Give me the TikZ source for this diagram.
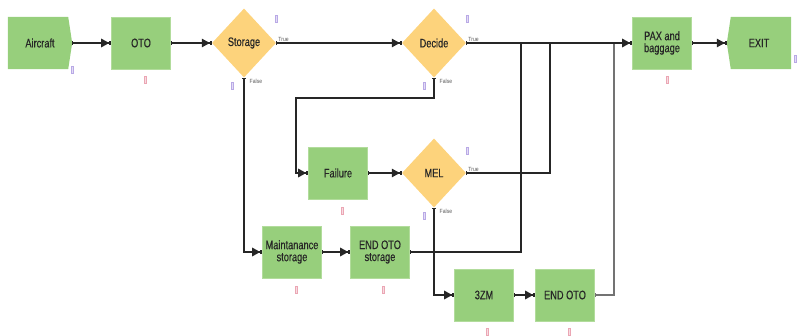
\documentclass[tikz,border=0pt]{standalone}
\usepackage{fontspec}
\setmainfont{Liberation Sans}[FakeStretch=0.75,FakeBold=0.3]
\newfontfamily\branchfont{Liberation Sans}[FakeStretch=0.85]
\usetikzlibrary{arrows.meta,shapes.geometric,backgrounds}
\definecolor{procgreen}{HTML}{97CF7C}
\definecolor{procedge}{HTML}{B2DC9C}
\definecolor{decyellow}{HTML}{FDD37C}
\definecolor{linegray}{HTML}{262626}
\definecolor{mkpurple}{HTML}{B9A9E6}
\definecolor{mkpink}{HTML}{EBA6B4}
\tikzset{
  x=1pt, y=1pt,
  every node/.style={font=\fontsize{12.3}{12}\selectfont, text=black!85},
  proc/.style={rectangle, fill=procgreen, draw=procedge, line width=0.6pt,
    minimum width=59, minimum height=52, inner sep=0pt, align=center},
  termtext/.style={rectangle, minimum width=64, minimum height=52, inner sep=0pt},
  decision/.style={diamond, fill=decyellow, draw=none, minimum width=64,
    minimum height=69, inner sep=0pt},
  flow/.style={draw=linegray, line width=1.3pt,
    {Bar[width=4pt,line width=1pt]}-{Triangle[length=8pt,width=8.5pt]Square[length=2pt,width=3.5pt]}},
  merge/.style={draw=linegray, line width=1.3pt, {Bar[width=4pt,line width=1pt]}-},
  branch/.style={font=\branchfont\fontsize{6}{7}\selectfont, text=black!65, inner sep=0.5pt},
  animark/.style={rectangle, draw=#1, fill=#1!40, line width=0.4pt,
    minimum width=1.6, minimum height=7, inner sep=0pt},
}
\begin{document}
\begin{tikzpicture}
\useasboundingbox (0,0) rectangle (798,-336);

% entry and exit modules (text holders; outlines drawn below)
\node[termtext] (aircraft) at (40,-43) {Aircraft};
\node[termtext] (exit) at (759,-43) {EXIT};
\begin{scope}[on background layer]
  \fill[procgreen] (aircraft.north west) -- ([xshift=-4]aircraft.north east)
    -- (aircraft.east) -- ([xshift=-4]aircraft.south east)
    -- (aircraft.south west) -- cycle;
  \fill[procgreen] ([xshift=4]exit.north west) -- (exit.north east)
    -- (exit.south east) -- ([xshift=4]exit.south west)
    -- (exit.west) -- cycle;
\end{scope}

% process blocks
\node[proc] (oto) at (141,-43) {OTO};
\node[proc] (pax) at (662,-43) {PAX and\\baggage};
\node[proc] (failure) at (338,-173) {Failure};
\node[proc] (maint) at (292,-252) {Maintanance\\storage};
\node[proc] (endstor) at (380,-252) {END OTO\\storage};
\node[proc] (zm) at (484,-295) {3ZM};
\node[proc] (endoto) at (565,-295) {END OTO};

% decisions
\node[decision] (storage) at (244,-43) {Storage};
\node[decision] (decide) at (434,-43) {Decide};
\node[decision] (mel) at (434,-173) {MEL};

% branch labels
\node[branch, anchor=south west] at ([xshift=1.5,yshift=0.5]storage.east) {True};
\node[branch, anchor=north west] at ([xshift=5,yshift=-1]storage.south) {False};
\node[branch, anchor=south west] at ([xshift=1.5,yshift=0.5]decide.east) {True};
\node[branch, anchor=north west] at ([xshift=5,yshift=-1]decide.south) {False};
\node[branch, anchor=south west] at ([xshift=1.5,yshift=0.5]mel.east) {True};
\node[branch, anchor=north west] at ([xshift=5,yshift=-1]mel.south) {False};

% bend points of the routed connectors
\coordinate (dfturn) at (296,-98);
\coordinate (meljoin) at (550,-43);
\coordinate (storjoin) at (521,-43);
\coordinate (otojoin) at (614,-43);

% connectors (the lighter return line first, so the main line stays on top)
\draw[merge, draw=black!55, line width=1.6pt] (endoto.east) -| (otojoin);
\draw[flow] (aircraft.east) -- (oto.west);
\draw[flow] (oto.east) -- (storage.west);
\draw[flow] (storage.east) -- (decide.west);
\draw[flow] (storage.south) |- (maint.west);
\draw[flow] (decide.east) -- (pax.west);
\draw[flow] (decide.south) |- (dfturn) |- (failure.west);
\draw[flow] (failure.east) -- (mel.west);
\draw[merge] (mel.east) -| (meljoin);
\draw[flow] (mel.south) |- (zm.west);
\draw[flow] (maint.east) -- (endstor.west);
\draw[merge] (endstor.east) -| (storjoin);
\draw[flow] (zm.east) -- (endoto.west);
\draw[flow] (pax.east) -- (exit.west);

% small animation markers beside the modules
\node[animark=mkpurple] (m1) at (72,-70) {};
\node[animark=mkpink] (m2) at (145,-79.5) {};
\node[animark=mkpurple] (m3) at (232,-86) {};
\node[animark=mkpurple] (m4) at (276,-19) {};
\node[animark=mkpurple] (m5) at (467,-19) {};
\node[animark=mkpurple] (m6) at (424,-86) {};
\node[animark=mkpink] (m7) at (667,-80) {};
\node[animark=mkpurple] (m8) at (795,-59) {};
\node[animark=mkpink] (m9) at (342,-211) {};
\node[animark=mkpurple] (m10) at (467,-151) {};
\node[animark=mkpurple] (m11) at (424,-216) {};
\node[animark=mkpink] (m12) at (296,-289.5) {};
\node[animark=mkpink] (m13) at (383,-289.5) {};
\node[animark=mkpink] (m14) at (487,-331.5) {};
\node[animark=mkpink] (m15) at (569,-331.5) {};
\end{tikzpicture}
\end{document}
